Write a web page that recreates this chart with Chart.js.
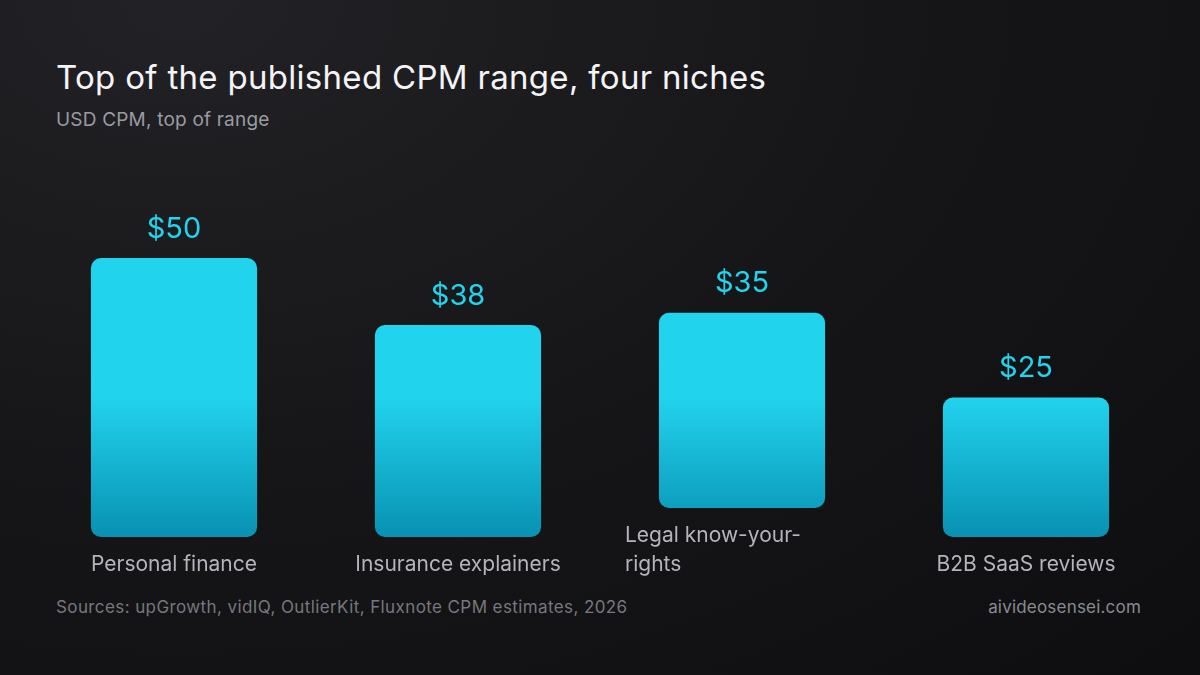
<!DOCTYPE html>
<html><head><meta charset="utf-8">
<script src="https://cdn.jsdelivr.net/npm/chart.js@4"></script>
<style>
html,body{margin:0;padding:0;width:1200px;height:675px;overflow:hidden;font-family:Inter,"Noto Sans",sans-serif;}
body{background:radial-gradient(ellipse at 15% 0%,#222226 0%,#161618 50%,#0e0e10 100%);}
#wrap{position:absolute;left:0;top:0;width:1200px;height:675px;}
.t{position:absolute;white-space:nowrap;}
</style></head><body>
<div class="t" style="left:56px;top:57px;font-size:33px;letter-spacing:0.3px;color:#f4f4f6;">Top of the published CPM range, four niches</div>
<div class="t" style="left:56px;top:108px;font-size:19px;letter-spacing:0.2px;color:#9a9aa3;">USD CPM, top of range</div>
<div class="t" style="left:56px;top:597px;font-size:17px;letter-spacing:0.4px;color:#77777f;">Sources: upGrowth, vidIQ, OutlierKit, Fluxnote CPM estimates, 2026</div>
<div class="t" style="right:59px;top:597px;font-size:17px;letter-spacing:0.2px;color:#8a8a92;">aivideosensei.com</div>
<div id="wrap"><canvas id="c" width="1200" height="675"></canvas></div>
<script>
const categories = [["Personal finance"], ["Insurance explainers"], ["Legal know-your-", "rights"], ["B2B SaaS reviews"]];
const values = [50, 38, 35, 25];
const valueLabels = ["$50", "$38", "$35", "$25"];
const kinds = ["purple", "cyan", "purple", "cyan"];
const LINE = 29;

function grad(ctx, top, bottom, kind){
  const g = ctx.createLinearGradient(0, top, 0, bottom);
  if(kind==="purple"){g.addColorStop(0,"#a78bfa");g.addColorStop(1,"#7c3aed");}
  else {g.addColorStop(0,"#22d3ee");g.addColorStop(1,"#0891b2");}
  return g;
}
const labelPlugin = {
  id:"lbl",
  afterLayout(chart){},
  beforeDatasetsDraw(chart){
    const meta = chart.getDatasetMeta(0);
    meta.data.forEach((b,i)=>{
      const lift = (categories[i].length-1)*LINE;
      if(!b._orig){b._orig={y:b.y,base:b.base};}
      b.y = b._orig.y - lift; b.base = b._orig.base - lift;
      b.options.backgroundColor = grad(chart.ctx, b.y, b.base, kinds[i]);
    });
  },
  afterDatasetsDraw(chart){
    const ctx = chart.ctx, meta = chart.getDatasetMeta(0);
    ctx.save();
    meta.data.forEach((b,i)=>{
      ctx.fillStyle="#22d3ee"; ctx.font="29px Inter, 'Noto Sans', sans-serif";
      ctx.textAlign="center"; ctx.textBaseline="middle";
      ctx.fillText(valueLabels[i], b.x, b.y-29);
      ctx.fillStyle="#b4b4bc"; ctx.font="21px Inter, 'Noto Sans', sans-serif";
      const n = categories[i].length;
      if(n>1){ctx.textAlign="left";}
      categories[i].forEach((ln,j)=>{
        const y = chart.chartArea.bottom+28-(n-1)*LINE+j*LINE;
        ctx.fillText(ln, n>1 ? b.x-117 : b.x, y);
      });
    });
    ctx.restore();
  }
};
new Chart(document.getElementById("c"),{
  type:"bar",
  data:{labels:categories.map(c=>c.join(" ")),datasets:[{
    data:values,
    backgroundColor:"#7c3aed",
    borderRadius:10, borderSkipped:false,
    categoryPercentage:1, barPercentage:0.585
  }]},
  options:{
    responsive:false, animation:false,
    layout:{padding:{left:32,right:32,top:258,bottom:138}},
    plugins:{legend:{display:false},tooltip:{enabled:false}},
    scales:{x:{display:false},y:{display:false,min:0,max:50}}
  },
  plugins:[labelPlugin]
});
</script>
</body></html>
